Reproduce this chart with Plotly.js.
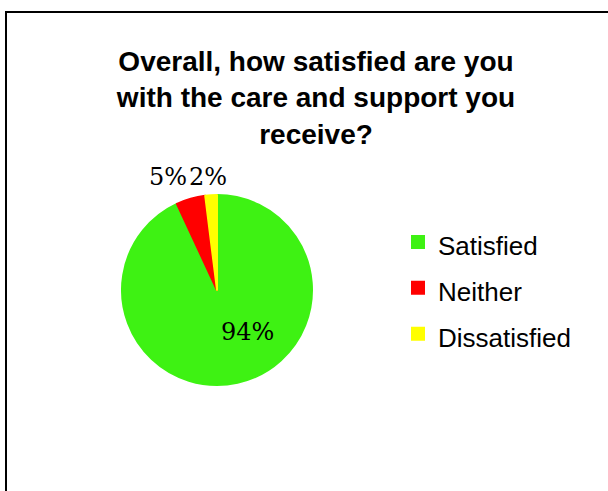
<!DOCTYPE html>
<html>
<head>
<meta charset="utf-8">
<script src="https://cdn.plot.ly/plotly-3.0.1.min.js"></script>
<style>
html, body { margin: 0; padding: 0; background: #fff; overflow: hidden; }
#chart { width: 608px; height: 491px; }
</style>
</head>
<body>
<div id="chart"></div>
<script>
// Data
const categories = ['Satisfied', 'Neither', 'Dissatisfied'];
const percentValues = [94, 5, 2];
const sliceColors = ['#3EF213', '#FF0000', '#FFFF00'];
const titleText = 'Overall, how satisfied are you<br>with the care and support you<br>receive?';

const W = 608, H = 491;
const cx = 217, cy = 290, R = 95;

// label placement (style only), in pixels of the page
const labelSpots = [[247, 332], [168, 177], [208, 177]];

const legendLabels = categories.map(c => '<span style="font-size:26px">' + c + '</span>');

const trace = {
  type: 'pie',
  labels: legendLabels,
  values: percentValues,
  textinfo: 'none',
  sort: false,
  direction: 'clockwise',
  rotation: 0,
  marker: { colors: sliceColors, line: { color: sliceColors, width: 2 } },
  domain: { x: [(cx - R) / W, (cx + R) / W], y: [(H - cy - R) / H, (H - cy + R) / H] },
  hoverinfo: 'none'
};

const annotations = percentValues.map((v, i) => ({
  xref: 'paper', yref: 'paper',
  x: labelSpots[i][0] / W, y: 1 - labelSpots[i][1] / H,
  xanchor: 'center', yanchor: 'middle',
  text: v + '%', showarrow: false,
  font: { family: 'DejaVu Serif', size: 24, color: '#000' }
}));

const layout = {
  width: W, height: H,
  margin: { l: 0, r: 0, t: 0, b: 0 },
  paper_bgcolor: '#fff',
  title: {
    text: titleText,
    font: { family: 'Liberation Sans, Arial', size: 28, color: '#000', weight: 'bold' },
    x: 316 / W, xanchor: 'center', xref: 'paper',
    y: 1 - 71 / H, yanchor: 'top', yref: 'container'
  },
  showlegend: true,
  legend: {
    x: 398 / W, xanchor: 'left',
    y: 1 - 288 / H, yanchor: 'middle',
    font: { family: 'Liberation Sans, Arial', size: 33, color: '#000' },
    bgcolor: 'rgba(0,0,0,0)'
  },
  annotations: annotations,
  shapes: [{
    type: 'rect', xref: 'paper', yref: 'paper',
    x0: 6 / W, x1: 1.2, y0: -0.2, y1: 1 - 12 / H,
    line: { color: '#000', width: 2 }, fillcolor: 'rgba(0,0,0,0)'
  }]
};

Plotly.newPlot('chart', [trace], layout, { displayModeBar: false, staticPlot: true });
</script>
</body>
</html>
